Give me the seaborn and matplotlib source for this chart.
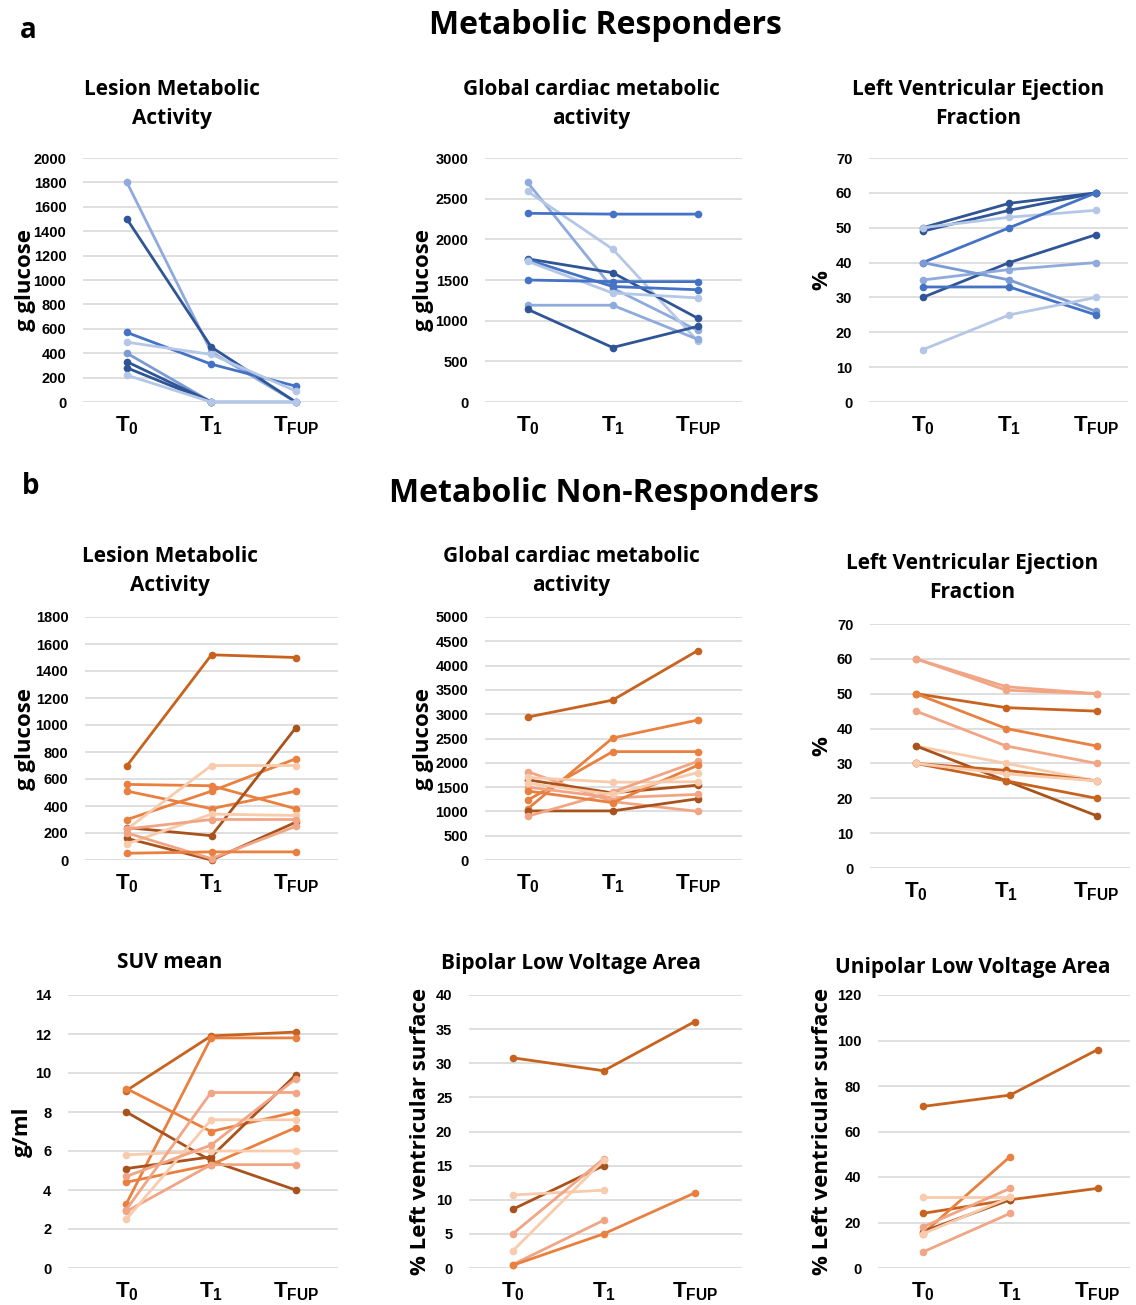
import numpy as np
import pandas as pd
import matplotlib
matplotlib.use("Agg")
import matplotlib.pyplot as plt
import seaborn as sns

nan = np.nan

# ─── Data ─────────────────────────────────────────────────────────────────
TIMES = ["T0", "T1", "TFUP"]
TIME_LABELS = [r"$\mathbf{T_0}$", r"$\mathbf{T_1}$", r"$\mathbf{T_{FUP}}$"]

# colour shades
DB, MB, LB, VB, PB = "#2F5597", "#4472C4", "#8FAADC", "#B4C7E7", "#7C9BD4"
DO, MO, OO, LO, VO = "#A9521C", "#C8621F", "#E9803F", "#F2A584", "#F8CBAD"

# a) Metabolic responders
LESION_R = [[1800, 410, 0], [1500, 450, 0], [570, 310, 130], [490, 390, 90],
            [400, 0, 0], [330, 0, nan], [280, 0, nan], [220, 0, 0]]
LESION_R_COL = [LB, DB, MB, VB, PB, DB, DB, VB]

GLOBAL_R = [[2700, 1400, 880], [2590, 1880, 750], [2320, 2310, 2310],
            [1760, 1590, 1030], [1750, 1420, 1380], [1730, 1340, 1280],
            [1500, 1480, 1480], [1190, 1190, 770], [1140, 670, 930]]
GLOBAL_R_COL = [LB, VB, MB, DB, MB, VB, MB, LB, DB]

LVEF_R = [[49, 55, 60], [50, 57, 60], [50, 53, 55], [40, 50, 60], [30, 40, 48],
          [35, 38, 40], [40, 35, 26], [33, 33, 25], [15, 25, 30]]
LVEF_R_COL = [DB, DB, VB, MB, DB, LB, PB, MB, VB]

# b) Metabolic non-responders
LESION_N = [[700, 1520, 1500], [560, 550, 380], [510, 380, 510], [300, 510, 750],
            [240, 180, 980], [160, 0, 280], [230, 700, 700], [120, 340, 330],
            [230, 300, 300], [200, 10, 250], [50, 60, 60]]
LESION_N_COL = [MO, OO, OO, OO, DO, DO, VO, VO, LO, LO, OO]

GLOBAL_N = [[2940, 3290, 4310], [1050, 2510, 2880], [1230, 2230, 2230],
            [1820, 1200, 1000], [1650, 1380, 1540], [1010, 1010, 1260],
            [1700, 1600, 1610], [1500, 1280, 1350], [900, 1400, 2030],
            [1420, 1180, 1950], [1580, 1350, 1800]]
GLOBAL_N_COL = [MO, OO, OO, LO, DO, DO, VO, LO, LO, OO, VO]

LVEF_N = [[60, 52, 50], [60, 51, 50], [50, 46, 45], [50, 40, 35], [45, 35, 30],
          [35, 30, 25], [35, 25, 15], [30, 28, 25], [30, 25, 20], [30, 27, 25]]
LVEF_N_COL = [LO, LO, MO, OO, LO, VO, DO, MO, MO, VO]

SUV_N = [[9.1, 11.9, 12.1], [3.3, 11.8, 11.8], [9.2, 7.0, 8.0], [8.0, 5.5, 4.0],
         [5.1, 5.7, 9.9], [4.4, 5.3, 7.2], [5.8, 6.0, 6.0], [3.0, 9.0, 9.0],
         [2.9, 5.3, 5.3], [2.5, 7.6, 7.6], [4.7, 6.3, 9.7]]
SUV_N_COL = [MO, OO, OO, DO, DO, OO, VO, LO, LO, VO, LO]

BIPOLAR_N = [[30.8, 28.9, 36.1], [8.6, 15.0, nan], [10.7, 11.4, nan],
             [5.0, 16.0, nan], [2.5, 15.8, nan], [0.5, 7.0, nan], [0.4, 5.0, 11.0]]
BIPOLAR_N_COL = [MO, DO, VO, LO, VO, LO, OO]

UNIPOLAR_N = [[71, 76, 96], [24, 30, 35], [15, 49, nan], [16, 30, nan],
              [31, 31, nan], [18, 35, nan], [15, 31, nan], [7, 24, nan]]
UNIPOLAR_N_COL = [MO, MO, OO, DO, VO, LO, VO, LO]

# ─── Style ────────────────────────────────────────────────────────────────
sns.set_style("white")
plt.rcParams.update({
    "font.family": ["Liberation Sans", "DejaVu Sans"],
    "font.weight": "bold",
    "text.color": "black",
    "xtick.color": "black",
    "ytick.color": "black",
    "mathtext.fontset": "custom",
    "mathtext.bf": "Liberation Sans:bold",
    "mathtext.rm": "Liberation Sans:bold",
    "mathtext.it": "Liberation Sans:bold",
})

W, H = 1136, 1305
fig = plt.figure(figsize=(W / 100, H / 100), dpi=100)

TITLE_FONT = ["Open Sans", "DejaVu Sans"]


def px_text(x, y, s, **kw):
    fig.text(x / W, 1 - y / H, s, color="black", **kw)


def panel(rows, colors, box, xlim, ymax, ystep, ylabel, ylab_x, title, title_xy):
    x0, x1, yt, yb = box
    ax = fig.add_axes([x0 / W, 1 - yb / H, (x1 - x0) / W, (yb - yt) / H])
    recs = []
    for i, r in enumerate(rows):
        for t, v in zip(TIMES, r):
            if not np.isnan(v):
                recs.append({"time": t, "value": v, "series": i})
    df = pd.DataFrame(recs)
    pal = {i: c for i, c in enumerate(colors)}
    sns.lineplot(data=df, x="time", y="value", hue="series", palette=pal,
                 marker="o", markersize=5.5, markeredgewidth=0, linewidth=2,
                 legend=False, ax=ax)
    for ln in ax.lines:
        ln.set_clip_on(False)
    ax.set_xlim(*xlim)
    ax.set_ylim(0, ymax)
    ax.set_yticks(np.arange(0, ymax + ystep / 2, ystep))
    ax.set_xticks(range(3), labels=TIME_LABELS)
    ax.tick_params(axis="x", labelsize=16, length=0, pad=9)
    ax.tick_params(axis="y", labelsize=10.5, length=0, pad=12)
    for lab in ax.get_yticklabels():
        lab.set_fontweight("bold")
    ax.set_xlabel("")
    ax.set_ylabel("")
    ax.yaxis.grid(True, color="#D9D9D9", linewidth=1.2)
    ax.set_axisbelow(True)
    sns.despine(ax=ax, left=True, bottom=True)
    yc = (yt + yb) / 2
    px_text(ylab_x, yc, ylabel, rotation=90, ha="center", va="center",
            fontsize=16, fontweight="bold", family=TITLE_FONT)
    px_text(title_xy[0], title_xy[1], title, ha="center", va="center",
            fontsize=15, fontweight="bold", family=TITLE_FONT,
            linespacing=1.55, multialignment="center")
    return ax


# ─── Row a ────────────────────────────────────────────────────────────────
px_text(20, 30, "a", fontsize=20, fontweight="bold", ha="left", va="center", family=TITLE_FONT)
px_text(605, 25, "Metabolic Responders", fontsize=23, fontweight="bold",
        ha="center", va="center", family=TITLE_FONT)

panel(LESION_R, LESION_R_COL, (83, 338, 158, 402), (-0.52, 2.5), 2000, 200,
      "g glucose", 25, "Lesion Metabolic\nActivity", (172, 104))
panel(GLOBAL_R, GLOBAL_R_COL, (485, 742, 158, 402), (-0.5, 2.52), 3000, 500,
      "g glucose", 424, "Global cardiac metabolic\nactivity", (591, 104))
panel(LVEF_R, LVEF_R_COL, (869, 1128, 158, 402), (-0.62, 2.37), 70, 10,
      "%", 822, "Left Ventricular Ejection\nFraction", (978, 104))

# ─── Row b ────────────────────────────────────────────────────────────────
px_text(22, 487, "b", fontsize=20, fontweight="bold", ha="left", va="center", family=TITLE_FONT)
px_text(604, 493, "Metabolic Non-Responders", fontsize=23, fontweight="bold",
        ha="center", va="center", family=TITLE_FONT)

panel(LESION_N, LESION_N_COL, (85, 338, 617, 860), (-0.5, 2.5), 1800, 200,
      "g glucose", 25, "Lesion Metabolic\nActivity", (170, 571))
panel(GLOBAL_N, GLOBAL_N_COL, (485, 742, 617, 860), (-0.5, 2.52), 5000, 500,
      "g glucose", 424, "Global cardiac metabolic\nactivity", (571, 571))
panel(LVEF_N, LVEF_N_COL, (870, 1130, 624, 868), (-0.51, 2.37), 70, 10,
      "%", 822, "Left Ventricular Ejection\nFraction", (972, 578))

panel(SUV_N, SUV_N_COL, (68, 338, 995, 1268), (-0.69, 2.5), 14, 2,
      "g/ml", 22, "SUV mean", (170, 963))
panel(BIPOLAR_N, BIPOLAR_N_COL, (469, 742, 995, 1268), (-0.48, 2.52), 40, 5,
      "% Left ventricular surface", 420, "Bipolar Low Voltage Area", (571, 963))
panel(UNIPOLAR_N, UNIPOLAR_N_COL, (878, 1130, 995, 1268), (-0.51, 2.37), 120, 20,
      "% Left ventricular surface", 822, "Unipolar Low Voltage Area", (973, 967))

fig.savefig("out.png", dpi=100)
